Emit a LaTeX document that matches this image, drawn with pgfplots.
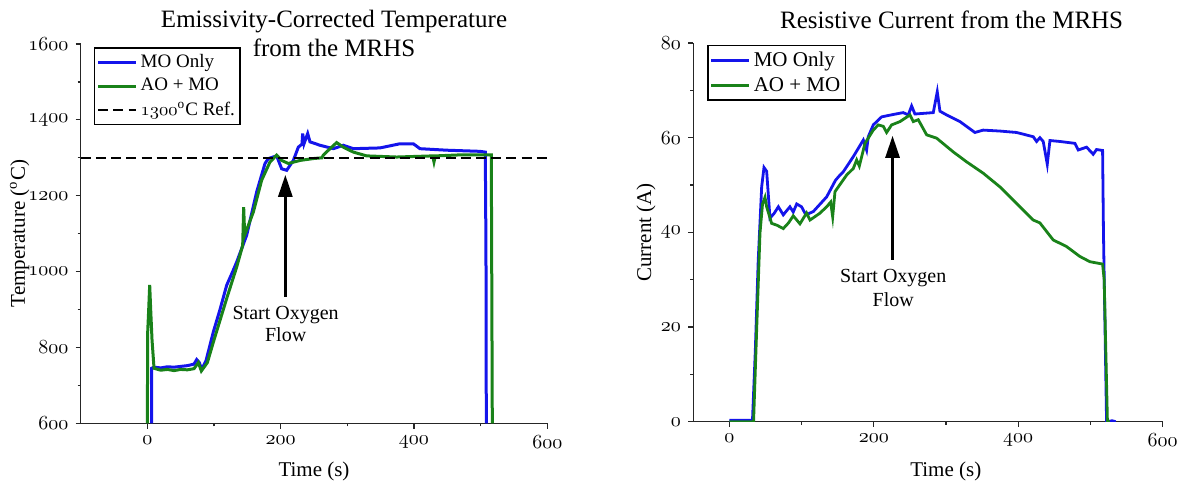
\documentclass[border=0pt]{standalone}
\usepackage{fontspec}
\setmainfont{Liberation Serif}
\usepackage{pgfplots}
\pgfplotsset{compat=1.18}
\usetikzlibrary{arrows.meta}
\definecolor{mblue}{RGB}{20,20,235}
\definecolor{mgreen}{RGB}{25,130,25}
\newcommand{\osn}[1]{\ensuremath{\mathnormal{#1}}}

\pgfplotstableread{
t T
6.5 600
6.5 745
10 748
20 746
30 749
40 748
50 750
60 752
70 756
74 768
78 760
81.5 742
88 765
99 841
109 900
119 964
128 1000
134 1025
149 1096
164 1210
176.5 1285
181.5 1298
194 1305
201.5 1271
209 1267
219 1293
226.5 1328
232 1336
233 1364
235 1337
240.5 1364
244 1342
259 1333
279 1324
294 1333
309 1324
349 1326
379 1337
399 1337
409 1324
449 1320
499 1317
507 1315
508 1050
508.5 600
}\blueT

\pgfplotstableread{
t T
0 600
0.5 840
2 900
3.5 965
5 900
7 820
10 745
20 740
30 742
40 739
50 742
60 741
70 744
76.5 760
81 738
90 760
99 814
119 929
134 1012
143 1069
144.5 1170
146 1096
159 1157
171.5 1241
184 1289
194 1307
201.5 1293
211.5 1285
229 1293
249 1298
262 1300
264 1307
274 1324
284 1340
294 1328
309 1315
329 1305
374 1302
428 1305
430 1289
432 1305
474 1308
516 1308
517.5 600
}\greenT

\pgfplotstableread{
t I
0 0.3
29 0.3
32 0
36 15
40 34
44.8 49.6
48 53.7
51.7 52.9
56.3 43.0
62 44
67.9 45.4
74.7 43.7
83.9 45.4
88.5 44.3
93.3 46.0
100 45.4
106 43.7
116.3 44.4
134.8 47.5
147 51
153.2 52.1
157.8 52.8
171.7 56.0
185.5 59.5
190.1 57.4
192.4 60.2
199.3 62.7
210.9 64.4
227 64.9
240.8 65.3
247.7 64.8
252.4 66.7
257 65
282.4 65.3
287.9 69.7
291.6 65.6
300.9 64.8
319.3 63.4
340 61.1
351.5 61.6
374.7 61.4
397.8 61.1
420.8 60.2
425.4 59.2
430 60
434.6 59.2
440.2 54.4
443.9 59.4
457.7 59.2
478.5 58.8
483.1 57.4
494.6 58
503.8 56.5
508.4 57.5
516.8 57.3
518 40
522.3 0
530 0.2
535 0
}\blueI

\pgfplotstableread{
t I
0 0
33.6 0
38 20
42.5 39.9
46 46
49.4 47.4
51.7 45.4
58.6 41.9
66 41.5
74.7 40.8
82 42
88.5 43.5
97.8 41.8
107 44.1
111.7 42.6
125 44
134.8 45.4
140.3 46.4
143.1 43.3
146.3 48.6
162.4 52.1
171.7 53.5
176.3 55.3
180 54
187.8 58.8
199.3 61.6
206.2 62.7
213.2 62.4
217.8 61.1
224.7 62.7
236.3 63.4
250.1 64.8
254.7 63.4
261.6 63.8
273.2 60.6
287 59.9
310 57.0
328.5 54.9
351.5 52.5
374.7 49.6
397.8 46.1
420.8 42.6
430 42
448.4 38.4
466.9 37.0
485.4 34.9
499.2 33.8
516.8 33.3
519 30
523.5 0
527 0
}\greenI

\pgfplotsset{
  mystyle/.style={
    scale only axis,
    axis lines*=left,
    axis line style={line width=0.65pt, black!85},
    tick align=outside,
    major tick length=2.6pt,
    minor tick length=1.5pt,
    every tick/.style={black!85, line width=0.6pt},
    tick label style={font=\fontsize{10}{11}\selectfont},
    label style={font=\fontsize{10.5}{12}\selectfont},
    legend cell align=left,
    legend image code/.code={\draw[##1] (0pt,0pt) -- (19pt,0pt);},
    legend style={draw=black, line width=0.7pt,
      inner xsep=1pt, inner ysep=1.5pt, row sep=1pt,
      nodes={inner sep=1.5pt}},
  }
}

\begin{document}
\begin{tikzpicture}
\useasboundingbox (0,0) rectangle (590pt,-240.5pt);

% ---------------- left panel ----------------
\begin{axis}[mystyle,
  at={(40.35pt,-211.65pt)}, anchor=south west,
  width=233.3pt, height=189.65pt,
  xmin=-100, xmax=600, ymin=600, ymax=1600,
  xtick={0,200,400,600}, xticklabels={\osn{0},\osn{200},\osn{400},\osn{600}},
  minor xtick={100,300,500},
  ytick={600,800,1000,1200,1400,1600},
  yticklabels={\osn{600},\osn{800},\osn{1000},\osn{1200},\osn{1400},\osn{1600}},
  minor ytick={700,900,1100,1300,1500},
  xlabel={Time (s)}, ylabel={Temperature (\textsuperscript{o}C)},
  xlabel style={at={(axis description cs:0.5,-0.1276)}, anchor=center},
  ylabel style={at={(axis description cs:-0.131,0.5)}, anchor=center},
  legend style={at={(axis description cs:0.0285,0.991)}, anchor=north west,
    font=\fontsize{9.5}{11}\selectfont},
]
\addplot[mblue, line width=1.5pt] table[x=t, y=T] {\blueT};
\addlegendentry{MO Only}
\addplot[mgreen, line width=1.5pt] table[x=t, y=T] {\greenT};
\addlegendentry{AO + MO}
\addplot[black, line width=1.1pt, dash pattern=on 5pt off 2.6pt] coordinates {(-100,1300) (600,1300)};
\addlegendentry{\osn{1300}\textsuperscript{o}C Ref.}
\draw[line width=1.4pt, -{Triangle[length=11pt,width=7pt]}] (axis cs:207,934) -- (axis cs:207,1255);
\node[align=center, font=\fontsize{10}{11.4}\selectfont] at (axis cs:207.5,862) {Start Oxygen\\Flow};
\end{axis}

% ---------------- right panel ----------------
\begin{axis}[mystyle,
  at={(346.6pt,-210.85pt)}, anchor=south west,
  width=234.75pt, height=189.35pt,
  xmin=-50, xmax=600, ymin=0, ymax=80,
  xtick={0,200,400,600}, xticklabels={\osn{0},\osn{200},\osn{400},\osn{600}},
  minor xtick={100,300,500},
  ytick={0,20,40,60,80}, yticklabels={\osn{0},\osn{20},\osn{40},\osn{60},\osn{80}},
  minor ytick={10,30,50,70},
  xlabel={Time (s)}, ylabel={Current (A)},
  xlabel style={at={(axis description cs:0.538,-0.132)}, anchor=center},
  ylabel style={at={(axis description cs:-0.1005,0.5)}, anchor=center},
  legend style={at={(axis description cs:0.030,0.995)}, anchor=north west,
    font=\fontsize{10.5}{12}\selectfont},
]
\addplot[mblue, line width=1.4pt] table[x=t, y=I] {\blueI};
\addlegendentry{MO Only}
\addplot[mgreen, line width=1.4pt] table[x=t, y=I] {\greenI};
\addlegendentry{AO + MO}
\draw[line width=1.4pt, -{Triangle[length=11pt,width=7pt]}] (axis cs:226,34.2) -- (axis cs:226,60.4);
\node[align=center, font=\fontsize{10}{12}\selectfont] at (axis cs:227,28.25) {Start Oxygen\\Flow};
\end{axis}

% titles
\node[align=center, font=\fontsize{12.5}{14.5}\selectfont] at (167pt,-16.5pt)
  {Emissivity-Corrected Temperature\\from the MRHS};
\node[font=\fontsize{12.5}{14.5}\selectfont] at (475.8pt,-10pt) {Resistive Current from the MRHS};
\end{tikzpicture}
\end{document}
